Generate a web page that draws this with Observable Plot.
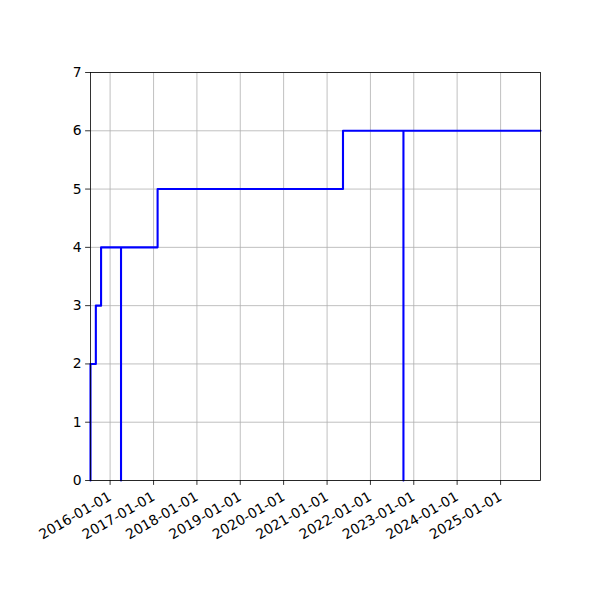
<!DOCTYPE html>
<html>
<head>
<meta charset="utf-8">
<script src="https://cdn.jsdelivr.net/npm/d3@7"></script>
<script src="https://cdn.jsdelivr.net/npm/@observablehq/plot@0.6"></script>
<style>
  html, body { margin: 0; padding: 0; background: white; }
</style>
</head>
<body>
<div id="chart"></div>
<script>
// Data
const dates = ["2015-07-20", "2015-07-20", "2015-09-03", "2015-10-17", "2016-04-02", "2016-04-02",
               "2017-02-04", "2021-05-15", "2022-10-06", "2022-10-06", "2025-12-03"];
const values = [0, 2, 3, 4, 0, 4, 5, 6, 0, 6, 6];
const xTickLabels = ["2016-01-01", "2017-01-01", "2018-01-01", "2019-01-01", "2020-01-01",
                     "2021-01-01", "2022-01-01", "2023-01-01", "2024-01-01", "2025-01-01"];
const yTicks = [0, 1, 2, 3, 4, 5, 6, 7];
const xDomain = ["2015-07-20", "2025-12-03"];

const parse = d3.utcParse("%Y-%m-%d");
const data = dates.map((d, i) => ({date: parse(d), value: values[i]}));
const xTicks = xTickLabels.map(parse);
const fmt = d3.utcFormat("%Y-%m-%d");

const chart = Plot.plot({
  width: 600,
  height: 600,
  marginLeft: 90,
  marginRight: 60,
  marginTop: 72,
  marginBottom: 120,
  style: {fontFamily: "DejaVu Sans", fontSize: "13.9px", color: "black", background: "white"},
  x: {type: "utc", domain: xDomain.map(parse)},
  y: {domain: [0, 7]},
  marks: [
    Plot.gridX(xTicks, {stroke: "#b0b0b0", strokeOpacity: 1, strokeWidth: 0.8}),
    Plot.gridY(yTicks, {stroke: "#b0b0b0", strokeOpacity: 1, strokeWidth: 0.8}),
    Plot.line(data, {x: "date", y: "value", curve: "step-after", stroke: "#0000ff", strokeWidth: 2.1}),
    Plot.frame({stroke: "black", strokeWidth: 0.8}),
    Plot.axisY({ticks: yTicks, tickSize: 4.9, tickPadding: 4, strokeWidth: 0.8, fontSize: 13.9, label: null, tickFormat: d => String(d)}),
    Plot.axisX({ticks: xTicks, tickSize: 4.9, tickPadding: 4, strokeWidth: 0.8, label: null, tickFormat: () => ""}),
    Plot.axisX({ticks: xTicks, tickSize: 0, tickPadding: 15, fontSize: 13.9, label: null,
                tickFormat: fmt, tickRotate: -30})
  ]
});
document.getElementById("chart").appendChild(chart);
</script>
</body>
</html>
